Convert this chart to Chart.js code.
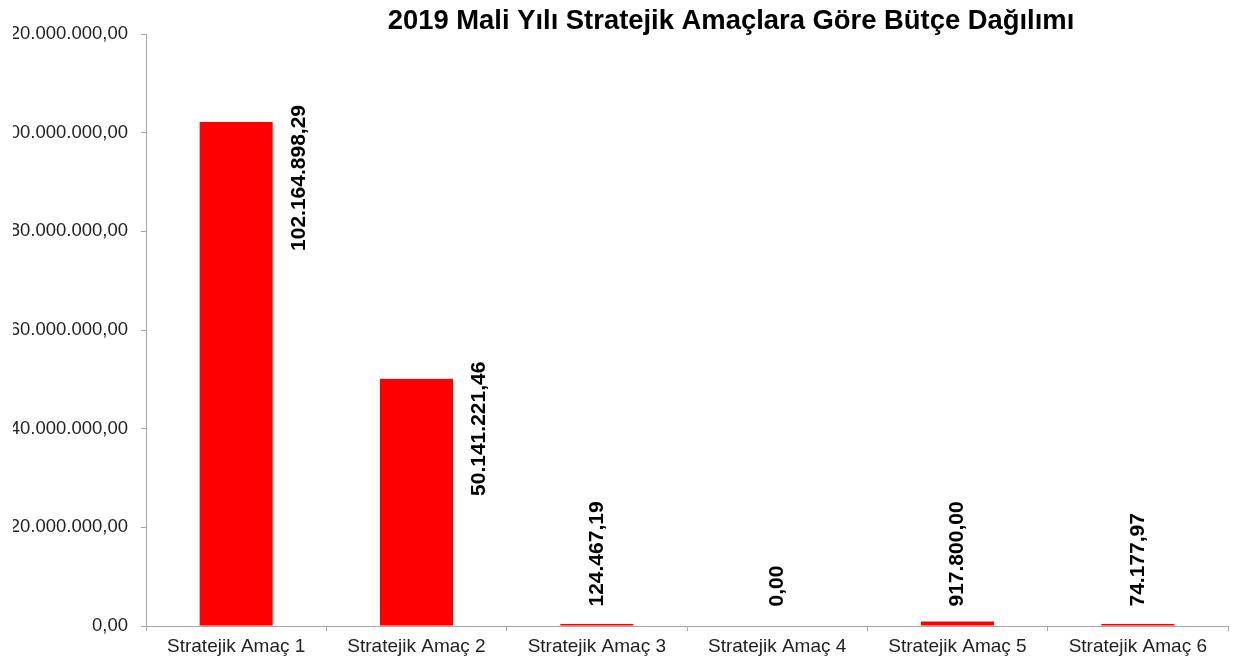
<!DOCTYPE html>
<html>
<head>
<meta charset="utf-8">
<script src="https://cdn.jsdelivr.net/npm/chart.js@4.4.0/dist/chart.umd.min.js"></script>
<style>
  html, body { margin: 0; padding: 0; background: #fff; overflow: hidden; }
  #wrap { position: absolute; left: 13px; top: 0; width: 1223px; height: 666px; }
</style>
</head>
<body>
<div id="wrap"><canvas id="c"></canvas></div>
<script>
const titleText = "2019 Mali Yılı Stratejik Amaçlara Göre Bütçe Dağılımı";
const categories = ["Stratejik Amaç 1", "Stratejik Amaç 2", "Stratejik Amaç 3", "Stratejik Amaç 4", "Stratejik Amaç 5", "Stratejik Amaç 6"];
const budgetValues = [102164898.29, 50141221.46, 124467.19, 0, 917800.00, 74177.97];
const yMin = 0;
const yMax = 120000000;
const yStep = 20000000;

function fmtTR(v) {
  const neg = v < 0;
  const fixed = Math.abs(v).toFixed(2);
  const parts = fixed.split(".");
  const intPart = parts[0].replace(/\B(?=(\d{3})+(?!\d))/g, ".");
  return (neg ? "-" : "") + intPart + "," + parts[1];
}

const AXIS_COLOR = "#a6a6a6";
const FONT = '"Liberation Sans", Arial, sans-serif';

const titlePlugin = {
  id: "customTitle",
  afterDraw(chart) {
    const ctx = chart.ctx;
    ctx.save();
    ctx.font = 'bold 27.4px ' + FONT;
    ctx.fillStyle = "#000";
    ctx.textAlign = "center";
    ctx.textBaseline = "middle";
    ctx.fillText(titleText, 718, 21);
    ctx.restore();
  }
};

const labelPlugin = {
  id: "valueLabels",
  afterDatasetsDraw(chart) {
    const ctx = chart.ctx;
    const meta = chart.getDatasetMeta(0);
    ctx.save();
    ctx.font = 'bold 21px ' + FONT;
    ctx.fillStyle = "#000";
    ctx.textBaseline = "middle";
    meta.data.forEach((bar, i) => {
      const txt = fmtTR(budgetValues[i]);
      const h = bar.base - bar.y;
      ctx.save();
      if (h > 150) {
        ctx.translate(bar.x + 63, bar.y - 17);
        ctx.rotate(-Math.PI / 2);
        ctx.textAlign = "right";
      } else {
        ctx.translate(bar.x, bar.base - 19);
        ctx.rotate(-Math.PI / 2);
        ctx.textAlign = "left";
      }
      ctx.fillText(txt, 0, 0);
      ctx.restore();
    });
    ctx.restore();
  }
};

new Chart(document.getElementById("c"), {
  type: "bar",
  data: {
    labels: categories,
    datasets: [{
      data: budgetValues,
      backgroundColor: (c) => (c.raw === 0 ? "rgba(0,0,0,0)" : "#ff0000"),
      borderWidth: 0,
      minBarLength: 2,
      barPercentage: 0.405,
      categoryPercentage: 1.0
    }]
  },
  options: {
    responsive: true,
    maintainAspectRatio: false,
    animation: false,
    layout: { padding: { top: 34, right: 8, bottom: 0, left: 0 } },
    plugins: {
      legend: { display: false },
      title: { display: false },
      tooltip: { enabled: false }
    },
    scales: {
      x: {
        grid: { offset: true, drawOnChartArea: false, tickLength: 5, color: AXIS_COLOR },
        border: { color: AXIS_COLOR, width: 1 },
        ticks: { font: { family: FONT, size: 19 }, color: "#222", padding: 4, maxRotation: 0 },
        afterFit(s) { s.height = 40; }
      },
      y: {
        min: yMin,
        max: yMax,
        grid: { drawOnChartArea: false, tickLength: 5, color: AXIS_COLOR },
        border: { color: AXIS_COLOR, width: 1 },
        ticks: {
          stepSize: yStep,
          font: { family: FONT, size: 18.5 },
          color: "#222",
          padding: 13,
          callback: (v) => fmtTR(v)
        },
        afterFit(s) { s.width = 133; }
      }
    }
  },
  plugins: [titlePlugin, labelPlugin]
});
</script>
</body>
</html>
